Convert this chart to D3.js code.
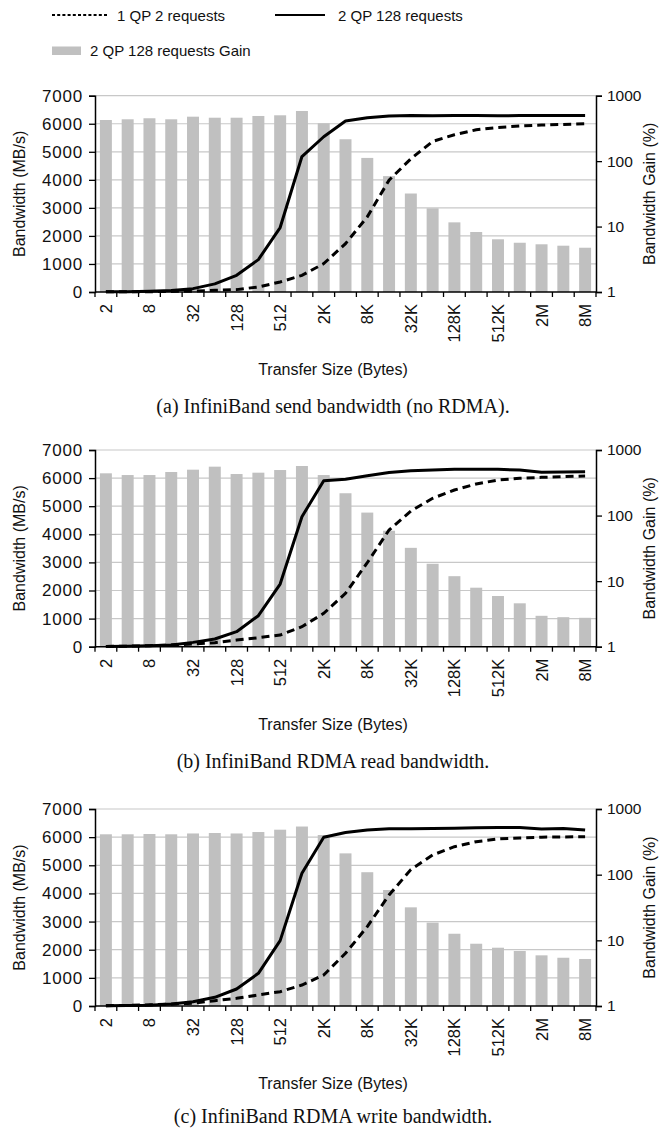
<!DOCTYPE html>
<html>
<head>
<meta charset="utf-8">
<script src="https://cdn.jsdelivr.net/npm/d3@7/dist/d3.min.js"></script>
<style>
  body { margin: 0; background: #fff; }
  text { font-family: "Liberation Sans", Arial, sans-serif; fill: #111; }
  .caption { font-family: "Liberation Serif", "Times New Roman", serif; }
</style>
</head>
<body>
<svg id="chart" width="668" height="1131"></svg>
<script>
// transfer sizes 2 B .. 8 MB
const sizes = ["2","4","8","16","32","64","128","256","512","1K","2K","4K","8K","16K","32K","64K","128K","256K","512K","1M","2M","4M","8M"];
const tickLabels = ["2","8","32","128","512","2K","8K","32K","128K","512K","2M","8M"];
const bwTicks = [0, 1000, 2000, 3000, 4000, 5000, 6000, 7000];
const gainTicks = [1, 10, 100, 1000];

// (a) send
const sendQp1 = [5, 8, 12, 20, 30, 60, 85, 180, 357, 595, 1012, 1726, 2679, 3988, 4750, 5370, 5607, 5786, 5869, 5917, 5952, 5976, 6000];
const sendQp2 = [5, 12, 25, 55, 120, 290, 595, 1155, 2298, 4830, 5536, 6095, 6214, 6274, 6290, 6286, 6290, 6290, 6285, 6290, 6290, 6290, 6290];
const sendGain = [425, 436, 452, 436, 478, 461, 461, 490, 502, 584, 379, 216, 112, 59, 32, 19.0, 11.6, 8.26, 6.39, 5.66, 5.36, 5.10, 4.75];

// (b) read
const readQp1 = [10, 20, 35, 60, 95, 142, 237, 320, 415, 712, 1186, 1898, 2989, 4152, 4830, 5281, 5577, 5790, 5932, 5993, 6028, 6050, 6075];
const readQp2 = [5, 15, 30, 60, 154, 273, 534, 1103, 2230, 4626, 5907, 5962, 6080, 6198, 6258, 6288, 6312, 6312, 6312, 6288, 6206, 6216, 6230];
const readGain = [441, 415, 415, 462, 501, 557, 430, 451, 495, 570, 415, 219, 111, 58.7, 32.2, 18.4, 11.9, 7.94, 5.93, 4.59, 2.96, 2.82, 2.76];

// (c) write
const writeQp1 = [10, 20, 40, 65, 95, 190, 272, 391, 509, 746, 1102, 1872, 2820, 3945, 4846, 5366, 5661, 5839, 5935, 5970, 6000, 6006, 6017];
const writeQp2 = [5, 15, 30, 70, 154, 308, 604, 1161, 2322, 4716, 5995, 6165, 6255, 6297, 6300, 6310, 6320, 6330, 6340, 6340, 6290, 6310, 6250];
const writeGain = [412, 412, 416, 412, 424, 431, 424, 446, 484, 541, 402, 211, 109, 58.4, 31.8, 18.6, 12.6, 8.88, 7.72, 6.88, 5.91, 5.43, 5.20];

const panels = [
  { top: 95.7, bottom: 292, qp1: sendQp1, qp2: sendQp2, gain: sendGain, caption: "(a)  InfiniBand send bandwidth (no RDMA).", capY: 413 },
  { top: 450, bottom: 646.7, qp1: readQp1, qp2: readQp2, gain: readGain, caption: "(b)  InfiniBand RDMA read bandwidth.", capY: 768 },
  { top: 809, bottom: 1006, qp1: writeQp1, qp2: writeQp2, gain: writeGain, caption: "(c)  InfiniBand RDMA write bandwidth.", capY: 1123 }
];

const svg = d3.select("#chart");
const left = 95, right = 596;
const barColor = "#c0c0c0";

const x = d3.scaleBand().domain(sizes).range([left, right]).paddingInner(0.45).paddingOuter(0.225);

// legend
const lg = svg.append("g");
lg.append("line").attr("x1", 52).attr("x2", 108).attr("y1", 15).attr("y2", 15)
  .attr("stroke", "#000").attr("stroke-width", 1.8).attr("stroke-dasharray", "3,2.2");
lg.append("text").attr("x", 117).attr("y", 20.5).attr("font-size", 15).text("1 QP 2 requests");
lg.append("line").attr("x1", 275).attr("x2", 325).attr("y1", 15).attr("y2", 15)
  .attr("stroke", "#000").attr("stroke-width", 2);
lg.append("text").attr("x", 338).attr("y", 20.5).attr("font-size", 15).text("2 QP 128 requests");
lg.append("rect").attr("x", 52).attr("y", 46.5).attr("width", 29).attr("height", 8.5).attr("fill", barColor);
lg.append("text").attr("x", 90).attr("y", 56).attr("font-size", 15).text("2 QP 128 requests Gain");

panels.forEach(p => {
  const g = svg.append("g");
  const yBw = d3.scaleLinear().domain([0, 7000]).range([p.bottom, p.top]);
  const yGain = d3.scaleLog().domain([1, 1000]).range([p.bottom, p.top]);

  // gridlines
  g.selectAll(".grid").data(bwTicks.slice(1)).join("line")
    .attr("x1", left).attr("x2", right)
    .attr("y1", d => yBw(d)).attr("y2", d => yBw(d))
    .attr("stroke", "#c8c8c8").attr("stroke-width", 1.2);

  // gain bars
  g.selectAll(".bar").data(p.gain).join("rect")
    .attr("x", (d, i) => x(sizes[i]))
    .attr("width", x.bandwidth())
    .attr("y", d => yGain(d))
    .attr("height", d => yGain(1) - yGain(d))
    .attr("fill", barColor);

  const line = d3.line()
    .x((d, i) => x(sizes[i]) + x.bandwidth() / 2)
    .y(d => yBw(d));

  g.append("path").datum(p.qp1).attr("d", line)
    .attr("fill", "none").attr("stroke", "#000").attr("stroke-width", 3)
    .attr("stroke-dasharray", "8,5");
  g.append("path").datum(p.qp2).attr("d", line)
    .attr("fill", "none").attr("stroke", "#000").attr("stroke-width", 3)
    .attr("stroke-linejoin", "round");

  // left axis
  const la = g.append("g").attr("transform", `translate(${left},0)`)
    .call(d3.axisLeft(yBw).tickValues(bwTicks).tickFormat(d3.format("d")).tickSize(6).tickPadding(6));
  la.select(".domain").attr("stroke-width", 1.5);
  la.selectAll(".tick line").attr("stroke-width", 1.3);
  la.selectAll("text").attr("font-size", 17).attr("letter-spacing", "0.8px").attr("font-family", "Liberation Sans, Arial, sans-serif").attr("fill", "#111");

  // right axis
  const ra = g.append("g").attr("transform", `translate(${right},0)`)
    .call(d3.axisRight(yGain).tickValues(gainTicks).tickFormat(d3.format("d")).tickSize(6).tickPadding(5));
  ra.select(".domain").attr("stroke-width", 1.5);
  ra.selectAll(".tick line").attr("stroke-width", 1.3);
  ra.selectAll("text").attr("font-size", 15.5).attr("font-family", "Liberation Sans, Arial, sans-serif").attr("fill", "#111");

  // bottom axis: ticks on band boundaries, labels every other size
  const bounds = sizes.map(s => x(s) - x.step() * x.paddingInner() / 2).concat([right]);
  g.append("line").attr("x1", left).attr("x2", right).attr("y1", p.bottom).attr("y2", p.bottom)
    .attr("stroke", "#000").attr("stroke-width", 1.5);
  g.selectAll(".xt").data(bounds).join("line")
    .attr("x1", d => d).attr("x2", d => d)
    .attr("y1", p.bottom).attr("y2", p.bottom + 5)
    .attr("stroke", "#000").attr("stroke-width", 1.3);
  g.selectAll(".xl").data(tickLabels).join("text")
    .attr("transform", d => `translate(${x(d) + x.bandwidth() / 2 + 6},${p.bottom + 12}) rotate(-90)`)
    .attr("text-anchor", "end").attr("font-size", 16.5).text(d => d);

  // titles
  const mid = (p.top + p.bottom) / 2;
  g.append("text").attr("transform", `translate(25,${mid}) rotate(-90)`)
    .attr("text-anchor", "middle").attr("font-size", 16).text("Bandwidth (MB/s)");
  g.append("text").attr("transform", `translate(655,${mid}) rotate(-90)`)
    .attr("text-anchor", "middle").attr("font-size", 16).text("Bandwidth Gain (%)");
  g.append("text").attr("x", 333).attr("y", p.bottom + 83)
    .attr("text-anchor", "middle").attr("font-size", 16).text("Transfer Size (Bytes)");
  g.append("text").attr("class", "caption").attr("x", 333).attr("y", p.capY)
    .attr("text-anchor", "middle").attr("font-size", 20).text(p.caption);
});
</script>
</body>
</html>
